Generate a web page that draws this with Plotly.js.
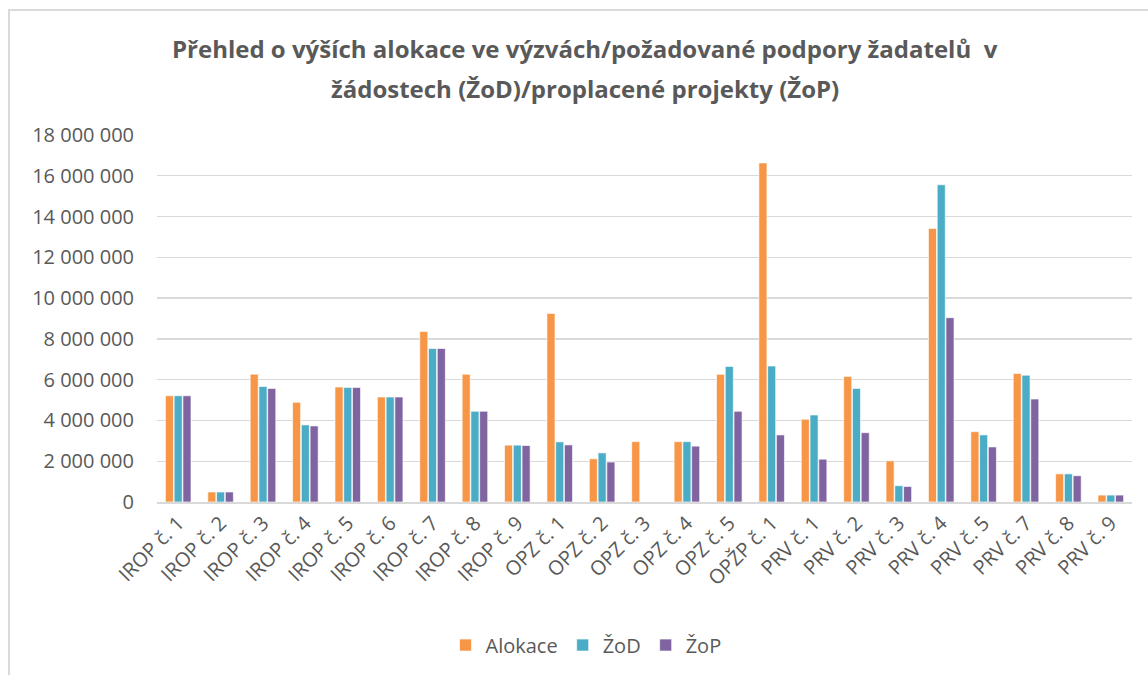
<!DOCTYPE html>
<html>
<head>
<meta charset="utf-8">
<script src="https://cdn.plot.ly/plotly-3.0.1.min.js"></script>
<style>
  html, body { margin: 0; padding: 0; background: #ffffff; }
  #wrap { position: relative; width: 1148px; height: 675px; overflow: hidden; }
  #chart { position: absolute; left: 0; top: 0; width: 1148px; height: 675px; }
  #frame { position: absolute; left: 8px; top: 9px; width: 1160px; height: 700px;
           border: 2px solid #d9d9d9; pointer-events: none; box-sizing: border-box; }
</style>
</head>
<body>
<div id="wrap">
  <div id="chart"></div>
  <div id="frame"></div>
</div>
<script>
const categories = [
  "IROP č. 1", "IROP č. 2", "IROP č. 3", "IROP č. 4", "IROP č. 5", "IROP č. 6",
  "IROP č. 7", "IROP č. 8", "IROP č. 9",
  "OPZ č. 1", "OPZ č. 2", "OPZ č. 3", "OPZ č. 4", "OPZ č. 5",
  "OPŽP č. 1",
  "PRV č. 1", "PRV č. 2", "PRV č. 3", "PRV č. 4", "PRV č. 5", "PRV č. 7", "PRV č. 8", "PRV č. 9"
];
const alokace = [
  5210000, 490000, 6270000, 4890000, 5640000, 5150000, 8360000, 6270000, 2790000,
  9250000, 2120000, 2960000, 2960000, 6260000,
  16630000,
  4060000, 6160000, 2020000, 13420000, 3450000, 6300000, 1380000, 340000
];
const zod = [
  5210000, 490000, 5670000, 3780000, 5620000, 5150000, 7530000, 4450000, 2790000,
  2950000, 2410000, null, 2960000, 6650000,
  6670000,
  4270000, 5570000, 800000, 15560000, 3290000, 6220000, 1380000, 340000
];
const zop = [
  5210000, 490000, 5570000, 3730000, 5620000, 5150000, 7530000, 4450000, 2770000,
  2800000, 1960000, null, 2740000, 4450000,
  3290000,
  2100000, 3400000, 760000, 9040000, 2700000, 5050000, 1290000, 340000
];
const seriesNames = ["Alokace", "ŽoD", "ŽoP"];
const titleLine1 = "Přehled o výších alokace ve výzvách/požadované podpory žadatelů  v";
const titleLine2 = "žádostech (ŽoD)/proplacené projekty (ŽoP)";

const colors = ["#F79646", "#4BACC6", "#8064A2"];
const font = "'Open Sans', 'Liberation Sans', sans-serif";
const textColor = "#595959";

const values = [alokace, zod, zop];
const traces = values.map((v, i) => ({
  type: "bar",
  name: seriesNames[i],
  x: categories,
  y: v,
  marker: { color: colors[i], line: { color: "rgba(255,255,255,0.8)", width: 0.8 } },
  hoverinfo: "x+y+name"
}));

const layout = {
  width: 1148,
  height: 675,
  margin: { l: 157, r: 16, t: 135, b: 172 },
  paper_bgcolor: "#ffffff",
  plot_bgcolor: "#ffffff",
  separators: ", ",
  barmode: "group",
  bargap: 0.38,
  bargroupgap: 0.08,
  font: { family: font, color: textColor, size: 20 },
  xaxis: {
    type: "category",
    tickangle: -45,
    showgrid: false,
    showline: true,
    linecolor: "#d9d9d9",
    linewidth: 1.5,
    ticks: "",
    tickfont: { family: font, color: textColor, size: 20 },
    automargin: false
  },
  yaxis: {
    range: [0, 18000000],
    dtick: 2000000,
    tick0: 0,
    tickformat: ",d",
    showgrid: true,
    gridcolor: "#d9d9d9",
    gridwidth: 1.3,
    zeroline: false,
    showline: false,
    ticks: "",
    ticklabelstandoff: 22,
    tickfont: { family: font, color: textColor, size: 20 },
    automargin: false
  },
  showlegend: true,
  legend: {
    orientation: "h",
    x: 0.44,
    xanchor: "center",
    y: -0.386,
    yanchor: "middle",
    font: { family: font, color: textColor, size: 20 },
    itemwidth: 30,
    traceorder: "normal"
  },
  annotations: [
    {
      text: "<b>" + titleLine1 + "</b>",
      xref: "paper", yref: "paper",
      x: 0.439, y: (503 - 48) / 368,
      xanchor: "center", yanchor: "middle",
      showarrow: false,
      font: { family: font, color: textColor, size: 24 }
    },
    {
      text: "<b>" + titleLine2 + "</b>",
      xref: "paper", yref: "paper",
      x: 0.439, y: (503 - 88) / 368,
      xanchor: "center", yanchor: "middle",
      showarrow: false,
      font: { family: font, color: textColor, size: 24 }
    }
  ]
};

Plotly.newPlot("chart", traces, layout, { displayModeBar: false, staticPlot: true });
</script>
</body>
</html>
